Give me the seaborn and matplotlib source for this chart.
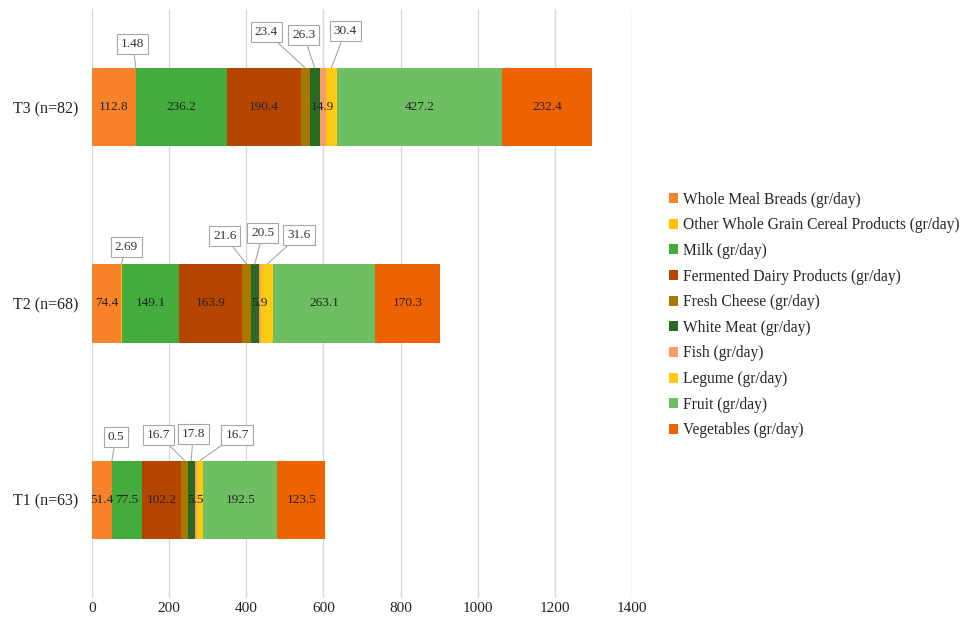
import numpy as np
import pandas as pd
import matplotlib
matplotlib.use("Agg")
import matplotlib.pyplot as plt
import seaborn as sns
from matplotlib.patches import Patch

# ---------------- data ----------------
groups = ["T3 (n=82)", "T2 (n=68)", "T1 (n=63)"]
categories = [
    "Whole Meal Breads (gr/day)",
    "Other Whole Grain Cereal Products (gr/day)",
    "Milk (gr/day)",
    "Fermented Dairy Products (gr/day)",
    "Fresh Cheese (gr/day)",
    "White Meat (gr/day)",
    "Fish (gr/day)",
    "Legume (gr/day)",
    "Fruit (gr/day)",
    "Vegetables (gr/day)",
]
t3_values = [112.8, 1.48, 236.2, 190.4, 23.4, 26.3, 14.9, 30.4, 427.2, 232.4]
t2_values = [74.4, 2.69, 149.1, 163.9, 21.6, 20.5, 5.9, 31.6, 263.1, 170.3]
t1_values = [51.4, 0.5, 77.5, 102.2, 16.7, 17.8, 5.5, 16.7, 192.5, 123.5]
x_ticks = [0, 200, 400, 600, 800, 1000, 1200, 1400]

# ---------------- style ----------------
colors = ["#F7822A", "#FFC000", "#43AC3C", "#B54600", "#A87800",
          "#276A23", "#FA9A68", "#FFCA10", "#6DBF62", "#EE6200"]
callout_idx = [1, 4, 5, 7]
# offsets (pixels) of callout boxes relative to segment top, per group
callout_offsets = {
    "T3 (n=82)": [(-3, 24), (-39, 36), (-11, 33), (14, 37)],
    "T2 (n=68)": [(5, 17), (-22, 28), (8, 31), (32, 29)],
    "T1 (n=63)": [(4, 24), (-26, 26), (2, 27), (37, 26)],
}
bar_h = 0.4

sns.set_theme(style="white")
plt.rcParams["font.family"] = ["Liberation Serif", "DejaVu Serif"]

fig = plt.figure(figsize=(9.68, 6.25), dpi=100)
ax = fig.add_axes([92 / 968, 1 - 598 / 625, 540 / 968, 589 / 625])

vals = {g: v for g, v in zip(groups, [t3_values, t2_values, t1_values])}
rows = []
for g in groups:
    cum = np.cumsum(vals[g])
    for i, c in enumerate(categories):
        rows.append(dict(group=g, category=c, value=vals[g][i], cum=cum[i],
                         center=cum[i] - vals[g][i] / 2))
df = pd.DataFrame(rows)

# draw cumulative bars from longest to shortest so each visible piece is one segment
for i in range(len(categories) - 1, -1, -1):
    sub = df[df["category"] == categories[i]]
    sns.barplot(data=sub, x="cum", y="group", order=groups, color=colors[i],
                width=bar_h, ax=ax, orient="h", saturation=1, linewidth=0,
                errorbar=None)

ax.set_xlim(0, 1400)
ax.set_ylim(2.5, -0.5)
ax.set_xticks(x_ticks)
ax.set_xticklabels([str(t) for t in x_ticks])
ax.set_xlabel("")
ax.set_ylabel("")
ax.grid(axis="x", color="#D9D9D9", lw=1)
ax.grid(axis="y", visible=False)
ax.set_axisbelow(True)
for s in ax.spines.values():
    s.set_visible(False)
ax.tick_params(axis="x", length=0, pad=3, labelsize=11, labelcolor="#222222")
ax.tick_params(axis="y", length=0, pad=10, labelsize=11.5, labelcolor="#222222")

# labels
for gi, g in enumerate(groups):
    sub = df[df["group"] == g].reset_index(drop=True)
    k = 0
    for i, r in sub.iterrows():
        if i in callout_idx:
            dx, dy = callout_offsets[g][k]
            k += 1
            ax.annotate(f"{r['value']:g}", xy=(r["center"], gi - bar_h / 2),
                        xytext=(dx, dy), textcoords="offset pixels",
                        ha="center", va="center", fontsize=9.5, color="#333333",
                        bbox=dict(boxstyle="square,pad=0.3", fc="white",
                                  ec="#A6A6A6", lw=0.8),
                        arrowprops=dict(arrowstyle="-", color="#A6A6A6",
                                        lw=0.8, shrinkA=0, shrinkB=0))
        else:
            ax.text(r["center"], gi, f"{r['value']:g}", ha="center",
                    va="center", fontsize=9.5, color="#222222")

handles = [Patch(facecolor=colors[i], edgecolor="none", label=categories[i])
           for i in range(len(categories))]
fig.legend(handles=handles, loc="center left",
           bbox_to_anchor=(661 / 968, 1 - 315 / 625), frameon=False,
           fontsize=11.2, handlelength=0.6, handleheight=0.6,
           handletextpad=0.3, labelspacing=0.62, borderpad=0)

fig.savefig("out.png", dpi=100)
